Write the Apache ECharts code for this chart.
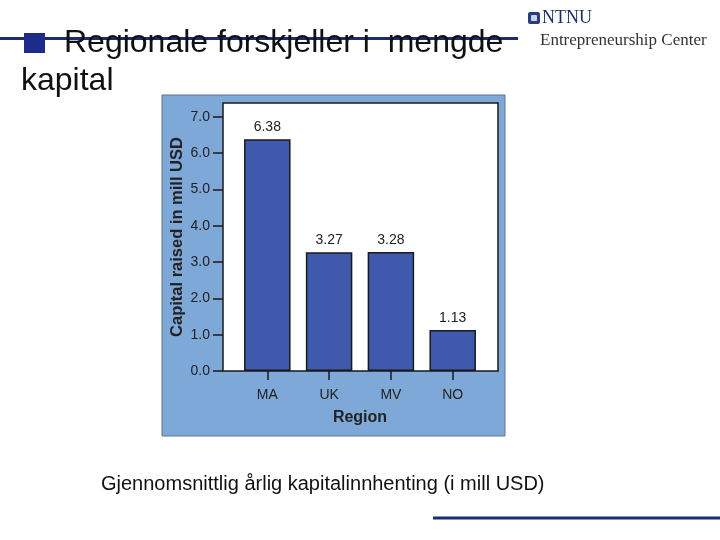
<!DOCTYPE html>
<html><head><meta charset="utf-8">
<script src="https://cdn.jsdelivr.net/npm/echarts@6/dist/echarts.min.js"></script>
<style>html,body{margin:0;padding:0;background:#fff}#c{width:720px;height:540px}</style>
</head><body><div id="c"></div>
<script>
var regions = ['MA', 'UK', 'MV', 'NO'];
var capital = [6.38, 3.27, 3.28, 1.13];
var yTicks = [0, 1, 2, 3, 4, 5, 6, 7];

var chart = echarts.init(document.getElementById('c'), null, {renderer: 'canvas'});
var F = '"Liberation Sans", Arial, sans-serif';
var option = {
  backgroundColor: '#ffffff',
  animation: false,
  graphic: [
    {type: 'rect', z: -10, shape: {x: 162, y: 95, width: 343, height: 341}, style: {fill: '#7ea8d8', stroke: '#5f7286', lineWidth: 1}},
    {type: 'rect', z: 0, shape: {x: 0, y: 37, width: 518, height: 3}, style: {fill: '#1d2c6e'}},
    {type: 'rect', z: 1, shape: {x: 24, y: 33, width: 21, height: 20}, style: {fill: '#1d2c8a'}},
    {type: 'rect', z: 0, shape: {x: 433, y: 516.5, width: 287, height: 3}, style: {fill: '#1d2c6e'}},
    {type: 'rect', z: 0, shape: {x: 528, y: 12, width: 12, height: 12, r: 2}, style: {fill: '#2a3f7a'}},
    {type: 'rect', z: 1, shape: {x: 531, y: 15, width: 6, height: 6, r: 1}, style: {fill: '#c9d3ea'}}
  ],
  title: [
    {text: 'Regionale forskjeller i  mengde', left: 64, top: 27, textStyle: {fontFamily: F, fontSize: 32, fontWeight: 'normal', color: '#111'}, padding: 0},
    {text: 'kapital', left: 21, top: 65, textStyle: {fontFamily: F, fontSize: 32, fontWeight: 'normal', color: '#111'}, padding: 0},
    {text: 'NTNU', left: 542, top: 9, textStyle: {fontFamily: '"Liberation Serif", serif', fontSize: 18, fontWeight: 'normal', color: '#1d2c5e'}, padding: 0},
    {text: 'Entrepreneurship Center', left: 540, top: 32, textStyle: {fontFamily: '"Liberation Serif", serif', fontSize: 17, fontWeight: 'normal', color: '#333'}, padding: 0},
    {text: 'Gjennomsnittlig årlig kapitalinnhenting (i mill USD)', left: 101, top: 474, textStyle: {fontFamily: F, fontSize: 20, fontWeight: 'normal', color: '#111'}, padding: 0}
  ],
  grid: [
    {left: 223, top: 103, width: 275, height: 268, show: true, backgroundColor: '#ffffff', borderColor: '#1a1a1a', borderWidth: 1.5, z: 0},
    {left: 236.4, top: 103, width: 247.2, height: 268, z: 2}
  ],
  xAxis: [
    {gridIndex: 0, type: 'value', show: false, min: 0, max: 1},
    {gridIndex: 1, type: 'category', data: regions, boundaryGap: true,
     axisLine: {show: false},
     axisTick: {show: true, alignWithLabel: true, length: 9, lineStyle: {color: '#1a1a1a', width: 1.5}},
     axisLabel: {margin: 17, fontFamily: F, fontSize: 14, color: '#222'},
     name: 'Region', nameLocation: 'middle', nameGap: 39,
     nameTextStyle: {fontFamily: F, fontSize: 16, fontWeight: 'bold', color: '#222'}}
  ],
  yAxis: [
    {gridIndex: 0, type: 'value', show: false, min: 0, max: 1},
    {gridIndex: 1, type: 'value', min: 0, max: 7.38, interval: 1, offset: 13.4,
     splitLine: {show: false},
     axisLine: {show: false},
     axisTick: {show: true, length: 10, customValues: yTicks, lineStyle: {color: '#1a1a1a', width: 1.5}},
     axisLabel: {customValues: yTicks, margin: 13, fontFamily: F, fontSize: 14, color: '#222',
       formatter: function (v) { return v.toFixed(1); }},
     name: 'Capital raised in mill USD', nameLocation: 'middle', nameGap: 37, nameRotate: 90,
     nameTextStyle: {fontFamily: F, fontSize: 16.5, fontWeight: 'bold', color: '#222'}}
  ],
  series: [{
    type: 'bar', xAxisIndex: 1, yAxisIndex: 1, data: capital, barWidth: 46.5, z: 3,
    itemStyle: {color: '#3f59ad', borderColor: '#1a1a1a', borderWidth: 1.5},
    label: {show: true, position: 'top', distance: 5, fontFamily: F, fontSize: 14, color: '#222',
      formatter: function (p) { return p.value.toFixed(2); }}
  }]
};
chart.setOption(option);
</script></body></html>
